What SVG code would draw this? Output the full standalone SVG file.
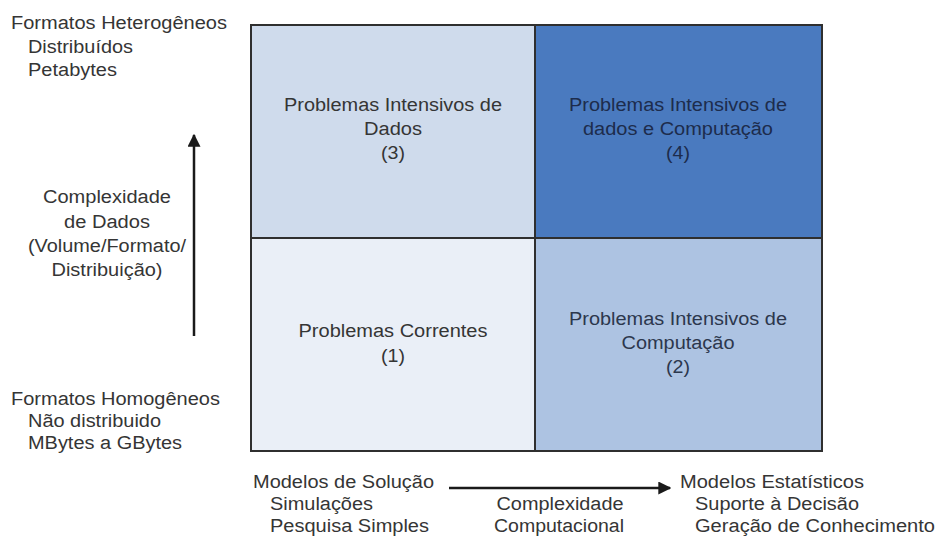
<svg xmlns="http://www.w3.org/2000/svg" width="939" height="537" viewBox="0 0 939 537">
  <defs>
    <style>
      text { font-family: "Liberation Sans", Arial, sans-serif; font-size: 18px; fill: #353535; }
      .c { text-anchor: middle; }
      .cell { stroke: #2f2f2f; stroke-width: 2; }
      .dark text { fill: #1d2c4c; }
      .mid text { fill: #2c374d; }
      .axis { stroke: #1a1a1a; stroke-width: 2.5; fill: none; }
    </style>
    <marker id="head" viewBox="0 0 10 10" refX="9" refY="5" markerWidth="5.2" markerHeight="5.2" orient="auto" markerUnits="strokeWidth">
      <path d="M0,0 L10,5 L0,10 Z" fill="#1a1a1a"/>
    </marker>
  </defs>

  <rect width="939" height="537" fill="#ffffff"/>

  <!-- quadrant (3): data intensive -->
  <g id="q3">
    <rect class="cell" x="251" y="25" width="284" height="213" fill="#cfdbec"/>
    <text class="c" x="393" y="111" textLength="218" lengthAdjust="spacingAndGlyphs">Problemas Intensivos de</text>
    <text class="c" x="393" y="135" textLength="58" lengthAdjust="spacingAndGlyphs">Dados</text>
    <text class="c" x="393" y="159" textLength="24" lengthAdjust="spacingAndGlyphs">(3)</text>
  </g>

  <!-- quadrant (4): data and compute intensive -->
  <g id="q4" class="dark">
    <rect class="cell" x="535" y="25" width="287" height="213" fill="#4a7abf"/>
    <text class="c" x="678" y="111" textLength="218" lengthAdjust="spacingAndGlyphs">Problemas Intensivos de</text>
    <text class="c" x="678" y="135" textLength="190" lengthAdjust="spacingAndGlyphs">dados e Computação</text>
    <text class="c" x="678" y="159" textLength="24" lengthAdjust="spacingAndGlyphs">(4)</text>
  </g>

  <!-- quadrant (1): current problems -->
  <g id="q1">
    <rect class="cell" x="251" y="238" width="284" height="213" fill="#eaeff7"/>
    <text class="c" x="393" y="337" textLength="189" lengthAdjust="spacingAndGlyphs">Problemas Correntes</text>
    <text class="c" x="393" y="362" textLength="24" lengthAdjust="spacingAndGlyphs">(1)</text>
  </g>

  <!-- quadrant (2): compute intensive -->
  <g id="q2" class="mid">
    <rect class="cell" x="535" y="238" width="287" height="213" fill="#adc3e2"/>
    <text class="c" x="678" y="325" textLength="218" lengthAdjust="spacingAndGlyphs">Problemas Intensivos de</text>
    <text class="c" x="678" y="349" textLength="113" lengthAdjust="spacingAndGlyphs">Computação</text>
    <text class="c" x="678" y="373" textLength="24" lengthAdjust="spacingAndGlyphs">(2)</text>
  </g>

  <!-- axes -->
  <g id="connectors">
    <line class="axis" x1="194" y1="336" x2="194" y2="135" marker-end="url(#head)"/>
    <line class="axis" x1="449" y1="488" x2="670" y2="488" marker-end="url(#head)"/>
  </g>

  <!-- vertical axis labels -->
  <g id="y-top">
    <text x="11" y="29" textLength="216" lengthAdjust="spacingAndGlyphs">Formatos Heterogêneos</text>
    <text x="28" y="53" textLength="105" lengthAdjust="spacingAndGlyphs">Distribuídos</text>
    <text x="28" y="76" textLength="89" lengthAdjust="spacingAndGlyphs">Petabytes</text>
  </g>
  <g id="y-label">
    <text class="c" x="107" y="203" textLength="128" lengthAdjust="spacingAndGlyphs">Complexidade</text>
    <text class="c" x="107" y="228" textLength="86" lengthAdjust="spacingAndGlyphs">de Dados</text>
    <text class="c" x="107" y="252" textLength="158" lengthAdjust="spacingAndGlyphs">(Volume/Formato/</text>
    <text class="c" x="107" y="276" textLength="111" lengthAdjust="spacingAndGlyphs">Distribuição)</text>
  </g>
  <g id="y-bottom">
    <text x="11" y="405" textLength="209" lengthAdjust="spacingAndGlyphs">Formatos Homogêneos</text>
    <text x="28" y="427" textLength="133" lengthAdjust="spacingAndGlyphs">Não distribuido</text>
    <text x="28" y="449" textLength="154" lengthAdjust="spacingAndGlyphs">MBytes a GBytes</text>
  </g>

  <!-- horizontal axis labels -->
  <g id="x-left">
    <text x="253" y="488" textLength="181" lengthAdjust="spacingAndGlyphs">Modelos de Solução</text>
    <text x="270" y="510" textLength="103" lengthAdjust="spacingAndGlyphs">Simulações</text>
    <text x="270" y="532" textLength="159" lengthAdjust="spacingAndGlyphs">Pesquisa Simples</text>
  </g>
  <g id="x-label">
    <text class="c" x="560" y="510" textLength="127" lengthAdjust="spacingAndGlyphs">Complexidade</text>
    <text class="c" x="559" y="532" textLength="130" lengthAdjust="spacingAndGlyphs">Computacional</text>
  </g>
  <g id="x-right">
    <text x="680" y="488" textLength="184" lengthAdjust="spacingAndGlyphs">Modelos Estatísticos</text>
    <text x="695" y="510" textLength="164" lengthAdjust="spacingAndGlyphs">Suporte à Decisão</text>
    <text x="695" y="532" textLength="240" lengthAdjust="spacingAndGlyphs">Geração de Conhecimento</text>
  </g>
</svg>
